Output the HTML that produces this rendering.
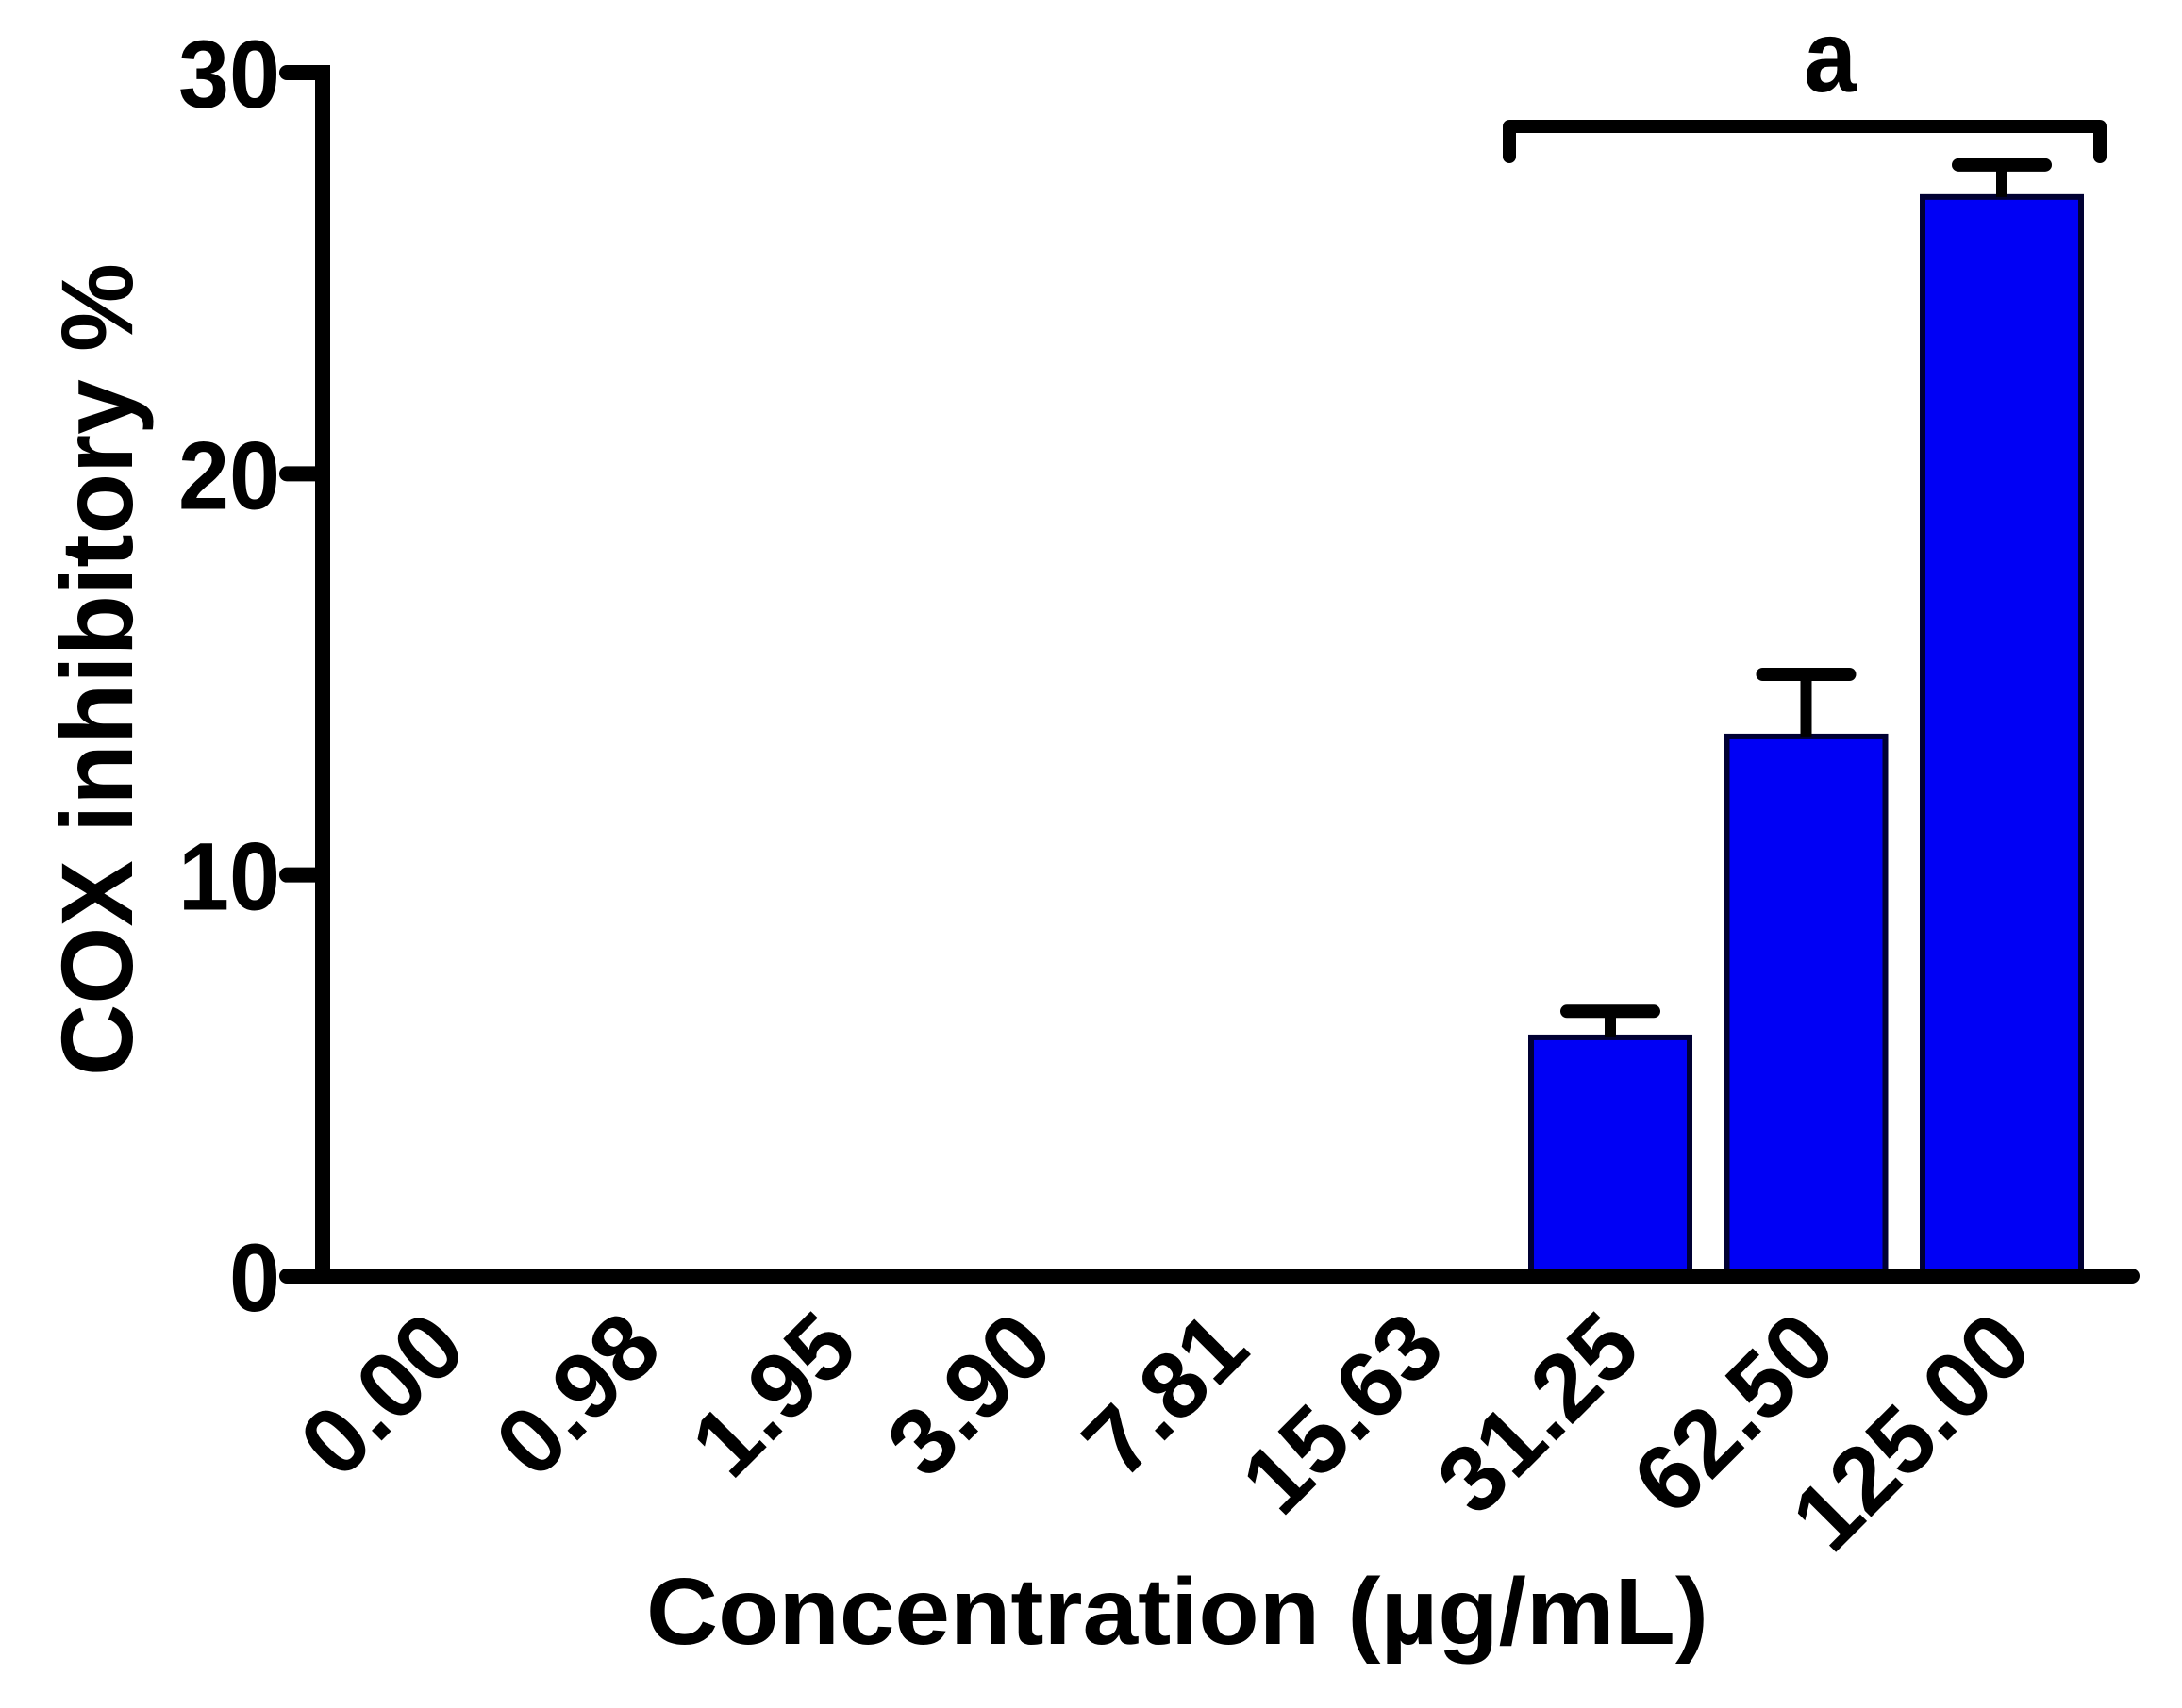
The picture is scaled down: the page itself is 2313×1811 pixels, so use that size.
<!DOCTYPE html>
<html><head><meta charset="utf-8"><style>html,body{margin:0;padding:0;background:#fff}svg{display:block}</style></head>
<body>
<svg id="chart" width="2313" height="1811" viewBox="0 0 2313 1811" xmlns="http://www.w3.org/2000/svg" font-family="'Liberation Sans', sans-serif" font-weight="bold"></svg>
<script>
const categories = ["0.00","0.98","1.95","3.90","7.81","15.63","31.25","62.50","125.00"];
const values = [0,0,0,0,0,0,5.95,13.45,26.9];
const errors = [0,0,0,0,0,0,0.65,1.55,0.8];
const yTicks = [0,10,20,30];
const yTickLabels = ["0","10","20","30"];

const svg = document.getElementById('chart');
const NS = 'http://www.w3.org/2000/svg';
const y0 = 1353, y30 = 77, axisX = 342;
const yScale = v => y0 - (y0 - y30) * v / 30;
const firstCenter = 462, step = 207.5, barW = 168;
const xScale = i => firstCenter + i * step;
function mk(tag, attrs, parent) {
  const e = document.createElementNS(NS, tag);
  for (const k in attrs) e.setAttribute(k, attrs[k]);
  (parent || svg).appendChild(e);
  return e;
}
const barsG = mk('g', {});


values.forEach((v, i) => {
  if (v <= 0) return;
  const cx = xScale(i);
  const top = yScale(v);
  const r = mk('rect', {x: cx - barW/2, y: top, width: barW, height: y0 - top, fill: '#0000f5', stroke: '#000033', 'stroke-width': 6}, barsG);
  
  
  const et = yScale(v + errors[i]);
  const l = mk('line', {x1: cx, x2: cx, y1: top, y2: et, stroke: '#000', 'stroke-width': 12}, barsG);
  
  
  const c = mk('line', {x1: cx - 46, x2: cx + 46, y1: et, y2: et, stroke: '#000', 'stroke-width': 14, 'stroke-linecap': 'round'}, barsG);
  
  
});
const ya = mk('line', {x1: axisX, x2: axisX, y1: y30 - 8, y2: y0 + 8, stroke: '#000', 'stroke-width': 16});


const xa = mk('line', {x1: axisX - 8, x2: 2260, y1: y0, y2: y0, stroke: '#000', 'stroke-width': 16, 'stroke-linecap': 'round'});


yTicks.forEach((t, i) => {
  const y = yScale(t);
  const tk = mk('line', {x1: 304, x2: axisX, y1: y, y2: y, stroke: '#000', 'stroke-width': 16, 'stroke-linecap': 'round'});
  
  
  const tx = mk('text', {x: 297, y: y + 37, 'text-anchor': 'end', 'font-size': 102, textLength: yTickLabels[i].length * 54, lengthAdjust: 'spacingAndGlyphs'});
  tx.textContent = yTickLabels[i];
  
  
});
categories.forEach((c, i) => {
  const cx = xScale(i) + 36, cy = 1434;
  const tx = mk('text', {x: cx, y: cy, 'text-anchor': 'end', 'font-size': 100, transform: `rotate(-45 ${cx} ${cy})`});
  tx.textContent = c;
  
  
});
const yt = mk('text', {x: 0, y: 0, 'text-anchor': 'middle', 'font-size': 108, transform: 'translate(140 710) rotate(-90)', textLength: 862, lengthAdjust: 'spacingAndGlyphs'});
yt.textContent = 'COX inhibitory %';


const xt = mk('text', {x: 1248, y: 1743, 'text-anchor': 'middle', 'font-size': 100, textLength: 1126, lengthAdjust: 'spacingAndGlyphs'});
xt.textContent = 'Concentration (µg/mL)';


const br = mk('path', {d: 'M1600 166 L1600 134 L2226 134 L2226 166', fill: 'none', stroke: '#000', 'stroke-width': 14, 'stroke-linecap': 'round', 'stroke-linejoin': 'round'});


const a = mk('text', {x: 1940, y: 97, 'text-anchor': 'middle', 'font-size': 108, textLength: 56, lengthAdjust: 'spacingAndGlyphs'});
a.textContent = 'a';


</script>
</body></html>
